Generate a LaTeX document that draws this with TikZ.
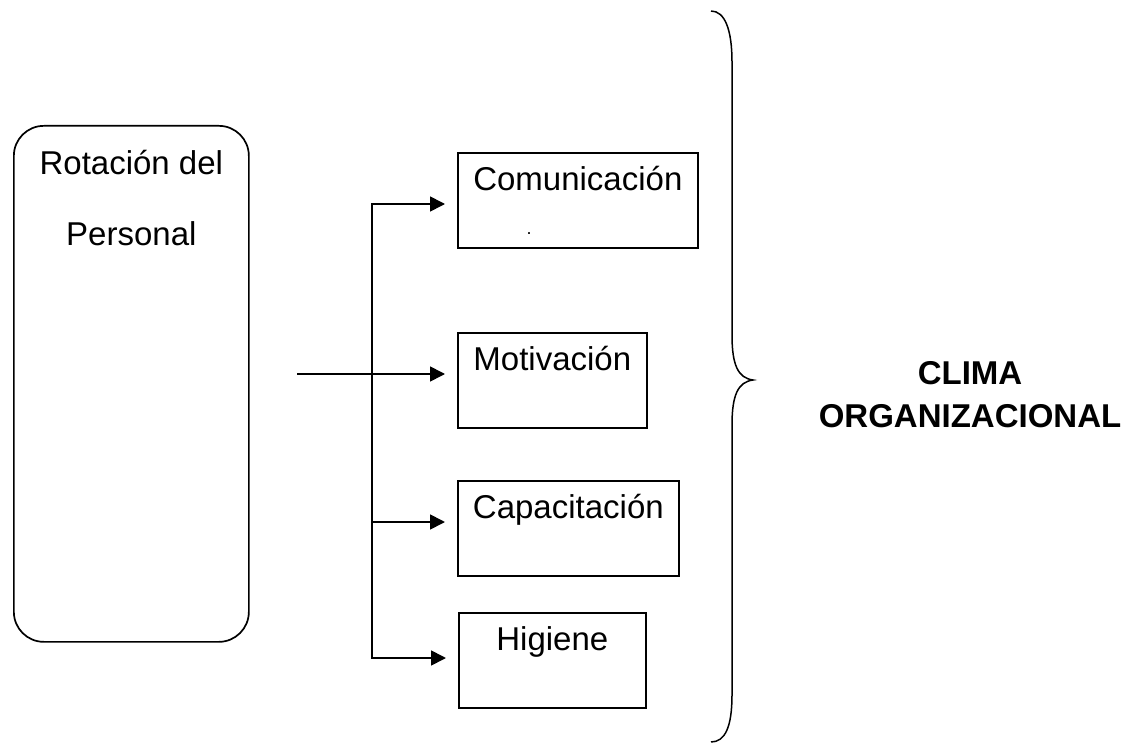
\documentclass[tikz,border=0pt]{standalone}
\usepackage{fontspec}
\setmainfont{Liberation Sans}
\usetikzlibrary{arrows.meta}

\begin{document}
\begin{tikzpicture}[x=1pt, y=-1pt, >={Triangle[length=15pt, width=15pt]}, line width=1.7pt,
    box/.style={draw, rectangle, anchor=north west, inner sep=0pt, text height=38pt, text depth=57pt, align=center, font=\fontsize{33}{40}\selectfont},
    rbox/.style={draw, rectangle, rounded corners=30pt, anchor=north west, inner sep=0pt, minimum width=235pt, align=center, font=\fontsize{33}{71}\selectfont},
    link/.style={->, shorten >=12pt}]
    \useasboundingbox (0,0) rectangle (1133,746);

    \node[rbox, text height=120pt, text depth=396pt] (R) at (13,125) {Rotación del\\Personal};

    \node[box, minimum width=240pt] (C) at (457,152) {Comunicación};
    \node[box, minimum width=189pt] (M) at (457,332) {Motivación};
    \node[box, minimum width=221pt] (K) at (457,480) {Capacitación};
    \node[box, minimum width=187pt] (H) at (458,612) {Higiene};
    \node[inner sep=0pt, font=\fontsize{18}{18}\selectfont] (dot) at (529,234) {.};

    \node[align=center, font=\fontsize{33}{43}\selectfont\bfseries] (T) at (970,395) {CLIMA\\ORGANIZACIONAL};

    \coordinate (in) at (297,374);
    \coordinate (t1) at (372,204); \coordinate (t2) at (372,374);
    \coordinate (t3) at (372,522); \coordinate (t4) at (372,658);

    \draw[link] (t2) -- (t1) -- (t1 -| C.west);
    \draw[link] (t2) -- (t4) -- (t4 -| H.west);
    \draw[link] (t3) -- (t3 -| K.west);
    \draw[link] (in) -- (in -| M.west);

    % brace
    \draw[line width=1.5pt] (711,11) .. controls (725,11) and (732,30) .. (732,62) -- (732,335)
        .. controls (732,365) and (738,378) .. (753,380) .. controls (738,382) and (732,395) .. (732,425)
        -- (732,695) .. controls (732,727) and (725,742) .. (711,742);
\end{tikzpicture}
\end{document}
